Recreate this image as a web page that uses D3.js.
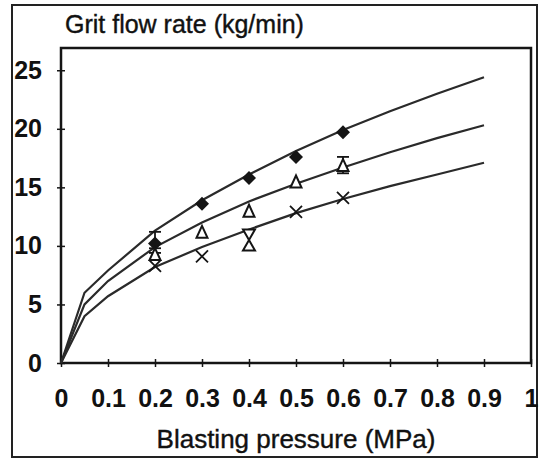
<!DOCTYPE html>
<html>
<head>
<meta charset="utf-8">
<script src="https://cdn.jsdelivr.net/npm/d3@7"></script>
<style>
  html, body { margin: 0; padding: 0; background: #fff; }
  svg { display: block; }
  text { font-family: "Liberation Sans", Arial, sans-serif; fill: #111; }
</style>
</head>
<body>
<svg id="chart" width="540" height="461"></svg>
<script>
// Blasting pressure (MPa) at which the fitted curves are traced
const curvePressure = [0, 0.05, 0.1, 0.2, 0.3, 0.4, 0.5, 0.6, 0.7, 0.8, 0.9];
// Fitted grit flow rate curves (kg/min)
const curveUpper  = [0, 6.0, 7.9, 11.3, 13.9, 16.1, 18.1, 19.9, 21.5, 23.0, 24.4];
const curveMiddle = [0, 5.0, 7.0,  9.9, 12.0, 13.8, 15.3, 16.7, 18.0, 19.2, 20.3];
const curveLower  = [0, 4.0, 5.7,  8.2,  9.9, 11.4, 12.8, 14.0, 15.1, 16.1, 17.1];

// Measured points
const measPressure = [0.2, 0.3, 0.4, 0.5, 0.6];
const diamondFlow  = [10.2, 13.6, 15.8, 17.6, 19.7];
const triangleFlow = [9.3, 11.2, 13.0, 15.5, 16.9];
const crossFlow    = [8.3, 9.1, 12.9, 14.1];
const crossPressure = [0.2, 0.3, 0.5, 0.6];
// Extra replicate at 0.4 MPa (hourglass marker: low / high reading)
const hourglassPressure = [0.4];
const hourglassLow  = [9.6];
const hourglassHigh = [11.4];

// Error bars: pressure, low, high
const diamondErrP = [0.2], diamondErrLo = [9.4], diamondErrHi = [11.2];
const triangleErrP = [0.2, 0.6], triangleErrLo = [8.8, 16.2], triangleErrHi = [9.8, 17.6];

const xTicks = [0, 0.1, 0.2, 0.3, 0.4, 0.5, 0.6, 0.7, 0.8, 0.9, 1];
const xTickLabels = ["0", "0.1", "0.2", "0.3", "0.4", "0.5", "0.6", "0.7", "0.8", "0.9", "1"];
const yTicks = [0, 5, 10, 15, 20, 25];

const svg = d3.select("#chart");
const ink = "#151515";

// outer frame
svg.append("rect").attr("x", 12).attr("y", 5).attr("width", 525).attr("height", 452)
  .attr("fill", "none").attr("stroke", "#222").attr("stroke-width", 2);

const x = d3.scaleLinear().domain([0, 1]).range([61, 531]);
const y = d3.scaleLinear().domain([0, 26.9]).range([363, 48]);

// plot box
svg.append("rect").attr("x", x(0)).attr("y", y(26.9)).attr("width", x(1) - x(0)).attr("height", y(0) - y(26.9))
  .attr("fill", "none").attr("stroke", ink).attr("stroke-width", 2.5);

// axes with ticks crossing the axis line
const xAxis = d3.axisBottom(x).tickValues(xTicks).tickSizeInner(4).tickSizeOuter(0)
  .tickFormat((d, i) => xTickLabels[i]).tickPadding(22);
const gx = svg.append("g").attr("transform", `translate(0,${y(0)})`).call(xAxis);
gx.select(".domain").remove();
gx.selectAll(".tick line").attr("y1", -4).attr("y2", 4).attr("stroke", ink).attr("stroke-width", 1.5);
gx.selectAll(".tick text").attr("font-size", 25).attr("font-weight", "bold").attr("fill", ink)
  .attr("font-family", "Liberation Sans, Arial, sans-serif");

const yAxis = d3.axisLeft(y).tickValues(yTicks).tickSizeInner(4).tickSizeOuter(0).tickPadding(15);
const gy = svg.append("g").attr("transform", `translate(${x(0)},0)`).call(yAxis);
gy.select(".domain").remove();
gy.selectAll(".tick line").attr("x1", -4).attr("x2", 4).attr("stroke", ink).attr("stroke-width", 1.5);
gy.selectAll(".tick text").attr("font-size", 25).attr("font-weight", "bold").attr("fill", ink)
  .attr("font-family", "Liberation Sans, Arial, sans-serif");

// titles
svg.append("text").attr("x", 65).attr("y", 33).attr("font-size", 25)
  .attr("stroke", "#111").attr("stroke-width", 0.4).text("Grit flow rate (kg/min)");
svg.append("text").attr("x", 296).attr("y", 448).attr("text-anchor", "middle").attr("font-size", 26)
  .attr("stroke", "#111").attr("stroke-width", 0.4).text("Blasting pressure (MPa)");

// fitted curves
const line = d3.line().x(d => x(d[0])).y(d => y(d[1]));
[curveUpper, curveMiddle, curveLower].forEach(series => {
  svg.append("path").datum(curvePressure.map((p, i) => [p, series[i]]))
    .attr("d", line).attr("fill", "none").attr("stroke", "#2a2a2a").attr("stroke-width", 2.2);
});

// error bars
function errorBars(ps, lo, hi) {
  ps.forEach((p, i) => {
    const g = svg.append("g").attr("stroke", ink).attr("stroke-width", 1.8);
    g.append("line").attr("x1", x(p)).attr("x2", x(p)).attr("y1", y(lo[i])).attr("y2", y(hi[i]));
    g.append("line").attr("x1", x(p) - 6).attr("x2", x(p) + 6).attr("y1", y(hi[i])).attr("y2", y(hi[i]));
    g.append("line").attr("x1", x(p) - 6).attr("x2", x(p) + 6).attr("y1", y(lo[i])).attr("y2", y(lo[i]));
  });
}
errorBars(diamondErrP, diamondErrLo, diamondErrHi);
errorBars(triangleErrP, triangleErrLo, triangleErrHi);

// diamonds
svg.selectAll(".dia").data(measPressure).enter().append("path")
  .attr("d", (p, i) => {
    const cx = x(p), cy = y(diamondFlow[i]), r = 7;
    return `M${cx},${cy - r}L${cx + r},${cy}L${cx},${cy + r}L${cx - r},${cy}Z`;
  }).attr("fill", ink);

// open triangles
svg.selectAll(".tri").data(measPressure).enter().append("path")
  .attr("d", (p, i) => {
    const cx = x(p), cy = y(triangleFlow[i]), h = 6;
    return `M${cx},${cy - h}L${cx + 5.5},${cy + h}L${cx - 5.5},${cy + h}Z`;
  }).attr("fill", "#fff").attr("stroke", ink).attr("stroke-width", 2);

// crosses
svg.selectAll(".crs").data(crossPressure).enter().append("path")
  .attr("d", (p, i) => {
    const cx = x(p), cy = y(crossFlow[i]), r = 6;
    return `M${cx - r},${cy - r}L${cx + r},${cy + r}M${cx - r},${cy + r}L${cx + r},${cy - r}`;
  }).attr("fill", "none").attr("stroke", ink).attr("stroke-width", 1.8);

// hourglass replicate
svg.selectAll(".hg").data(hourglassPressure).enter().append("path")
  .attr("d", (p, i) => {
    const cx = x(p), top = y(hourglassHigh[i]), bot = y(hourglassLow[i]), mid = (top + bot) / 2;
    return `M${cx - 6},${top}L${cx + 6},${top}L${cx},${mid}Z M${cx},${mid}L${cx + 6},${bot}L${cx - 6},${bot}Z`;
  }).attr("fill", "#fff").attr("stroke", ink).attr("stroke-width", 2);
</script>
</body>
</html>
